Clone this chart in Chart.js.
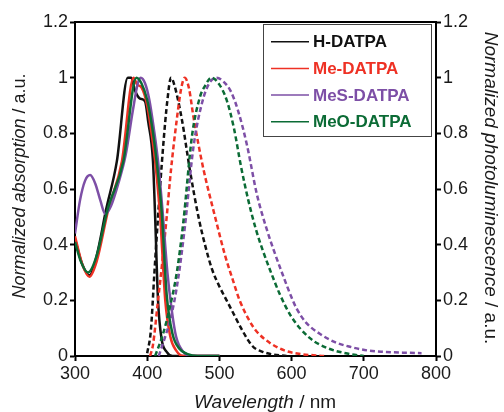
<!DOCTYPE html>
<html>
<head>
<meta charset="utf-8">
<script src="https://cdn.jsdelivr.net/npm/chart.js@4"></script>
<style>
  body { margin: 0; background: #fff; }
  canvas { display: block; }
</style>
</head>
<body>
<canvas id="spectra" width="504" height="412"></canvas>
<script>
// series names + colours (legend order)
const names = ['H-DATPA', 'Me-DATPA', 'MeS-DATPA', 'MeO-DATPA'];
const colors = ['#111111', '#ee3124', '#7d4fa6', '#0b6b35'];

// absorption (solid)
const hAbsWl  = [300, 310, 320, 330, 343, 358, 373, 378, 383, 390, 397, 401.5, 408, 411, 415, 420, 427, 435, 500];
const hAbs    = [0.42, 0.33, 0.29, 0.36, 0.525, 0.70, 1.0, 1.0, 0.955, 0.925, 0.915, 0.84, 0.70, 0.50, 0.2, 0.06, 0.015, 0, 0];
const meAbsWl = [300, 310, 320, 330, 346, 365, 381, 386, 392, 400, 406, 411, 418, 425, 432, 440, 450, 500];
const meAbs   = [0.43, 0.33, 0.285, 0.34, 0.525, 0.70, 1.0, 0.975, 0.965, 0.9, 0.8, 0.7, 0.5, 0.2, 0.07, 0.02, 0, 0];
const mesAbsWl = [300, 307, 314, 321, 328, 335, 342, 350, 360, 370, 380, 387, 391, 397, 403, 409, 415, 421, 428, 434, 440, 450, 460, 500];
const mesAbs   = [0.44, 0.56, 0.63, 0.65, 0.62, 0.56, 0.51, 0.54, 0.62, 0.72, 0.88, 0.98, 1.0, 0.98, 0.92, 0.82, 0.70, 0.53, 0.30, 0.165, 0.07, 0.015, 0, 0];
const meoAbsWl = [300, 308, 318, 330, 345, 367, 385, 392, 400, 407, 413, 420, 427, 435, 445, 455, 470, 500];
const meoAbs   = [0.41, 0.34, 0.30, 0.36, 0.525, 0.70, 1.0, 0.98, 0.92, 0.82, 0.70, 0.52, 0.22, 0.08, 0.025, 0.008, 0, 0];

// photoluminescence (dashed)
const hEmWl  = [400, 405, 410, 415, 422, 428, 433, 438, 448, 459, 471, 480, 490, 500, 510, 520, 530, 546, 560, 575, 593];
const hEm    = [0.01, 0.09, 0.3, 0.5, 0.75, 0.92, 1.0, 0.97, 0.85, 0.67, 0.50, 0.40, 0.31, 0.25, 0.2, 0.15, 0.1, 0.035, 0.015, 0.005, 0];
const meEmWl = [404, 408, 415, 421, 427, 433, 441, 447, 452, 458, 464, 471, 478, 494, 508, 519, 528, 542, 551, 570, 590, 610, 645];
const meEm   = [0, 0.04, 0.2, 0.34, 0.5, 0.67, 0.85, 0.96, 1.0, 0.96, 0.86, 0.76, 0.67, 0.5, 0.36, 0.27, 0.2, 0.125, 0.09, 0.047, 0.02, 0.008, 0];
const mesEmWl = [416, 425, 433, 443, 452, 464, 476, 486, 496, 506, 516, 526, 538, 552, 565, 576, 588, 600, 607, 620, 639, 660, 681, 705, 727, 755, 780];
const mesEm   = [0, 0.07, 0.14, 0.28, 0.46, 0.75, 0.91, 0.98, 1.0, 0.985, 0.95, 0.88, 0.76, 0.58, 0.46, 0.375, 0.29, 0.21, 0.17, 0.12, 0.08, 0.05, 0.033, 0.02, 0.015, 0.012, 0.01];
const meoEmWl = [411, 422, 430, 441, 450, 462, 473, 480, 489, 500, 510, 520, 530, 540, 550, 560, 570, 584, 600, 625, 650, 681, 700];
const meoEm   = [0, 0.08, 0.16, 0.30, 0.48, 0.79, 0.93, 0.97, 1.0, 0.975, 0.92, 0.82, 0.68, 0.56, 0.46, 0.38, 0.31, 0.22, 0.14, 0.065, 0.028, 0.007, 0];

const xTicks = [300, 400, 500, 600, 700, 800];
const yTicks = [0, 0.2, 0.4, 0.6, 0.8, 1, 1.2];

const FONT = '"Liberation Sans", Arial, Helvetica, sans-serif';

const pts = (wl, v) => wl.map((x, i) => ({ x: x, y: v[i] }));

const absSets = [[hAbsWl, hAbs], [meAbsWl, meAbs], [mesAbsWl, mesAbs], [meoAbsWl, meoAbs]];
const emSets  = [[hEmWl, hEm], [meEmWl, meEm], [mesEmWl, mesEm], [meoEmWl, meoEm]];

const datasets = [];
absSets.forEach((s, i) => {
  datasets.push({
    label: names[i] + ' abs', data: pts(s[0], s[1]), borderColor: colors[i],
    borderWidth: 2.5, pointRadius: 0, cubicInterpolationMode: 'monotone',
    order: 3 - i, yAxisID: 'y'
  });
});
emSets.forEach((s, i) => {
  datasets.push({
    label: names[i] + ' PL', data: pts(s[0], s[1]), borderColor: colors[i],
    borderWidth: 2.5, borderDash: [5, 3], pointRadius: 0, cubicInterpolationMode: 'monotone',
    order: 3 - i, yAxisID: 'y2'
  });
});

// legend box, top border and mixed-style axis titles
const decor = {
  id: 'decor',
  afterDraw(chart) {
    const c = chart.ctx, a = chart.chartArea;
    c.save();
    c.strokeStyle = '#000';
    c.lineWidth = 2;
    c.beginPath();
    c.moveTo(a.left - 1, a.top);
    c.lineTo(a.right + 1, a.top);
    c.stroke();

    // legend
    c.fillStyle = '#fff';
    c.fillRect(263.5, 24.5, 168, 112);
    c.strokeStyle = '#444';
    c.lineWidth = 1;
    c.strokeRect(263.5, 24.5, 168, 112);
    c.textBaseline = 'middle';
    c.font = 'bold 17px ' + FONT;
    names.forEach((n, i) => {
      const y = 41.7 + i * 26.7;
      c.strokeStyle = colors[i];
      c.lineWidth = 1.5;
      c.beginPath();
      c.moveTo(271, y);
      c.lineTo(309, y);
      c.stroke();
      c.fillStyle = colors[i];
      c.fillText(n, 313, y + 1);
    });

    // axis titles
    const title = (parts, size, cx, cy, rot) => {
      c.save();
      c.translate(cx, cy);
      c.rotate(rot);
      c.fillStyle = '#1a1a1a';
      c.textBaseline = 'alphabetic';
      let w = 0;
      parts.forEach(p => { c.font = p[1] + size + 'px ' + FONT; w += c.measureText(p[0]).width; });
      let x = -w / 2;
      parts.forEach(p => {
        c.font = p[1] + size + 'px ' + FONT;
        c.fillText(p[0], x, 6);
        x += c.measureText(p[0]).width;
      });
      c.restore();
    };
    title([['Wavelength', 'italic '], [' / nm', '']], 19, 265, 402, 0);
    title([['Normalized absorption', 'italic '], [' / a.u.', '']], 18, 19, 186, -Math.PI / 2);
    title([['Normalized photoluminescence', 'italic '], [' / a.u.', '']], 19, 491, 188, Math.PI / 2);
    c.restore();
  }
};

const yScale = (pos, w) => ({
  type: 'linear', position: pos, min: 0, max: 1.2,
  afterBuildTicks: s => { s.ticks = yTicks.map(v => ({ value: v })); },
  afterFit: s => { s.width = w; },
  ticks: {
    padding: 2, color: '#1a1a1a', font: { family: FONT, size: 18 },
    callback: v => String(+v.toFixed(1))
  },
  grid: { drawOnChartArea: false, tickLength: 5, tickWidth: 2, color: '#000' },
  border: { color: '#000', width: 2 }
});

new Chart(document.getElementById('spectra'), {
  type: 'line',
  data: { datasets: datasets },
  options: {
    responsive: false,
    animation: false,
    layout: { padding: { top: 22, left: 0, right: 0, bottom: 0 } },
    plugins: { legend: { display: false }, tooltip: { enabled: false } },
    scales: {
      x: {
        type: 'linear', position: 'bottom', min: 300, max: 800,
        afterBuildTicks: s => { s.ticks = xTicks.map(v => ({ value: v })); },
        afterFit: s => { s.height = 56; },
        ticks: { padding: 2, color: '#1a1a1a', font: { family: FONT, size: 18 } },
        grid: { drawOnChartArea: false, tickLength: 5, tickWidth: 2, color: '#000' },
        border: { color: '#000', width: 2 }
      },
      y: yScale('left', 75),
      y2: yScale('right', 68)
    }
  },
  plugins: [decor]
});
</script>
</body>
</html>
